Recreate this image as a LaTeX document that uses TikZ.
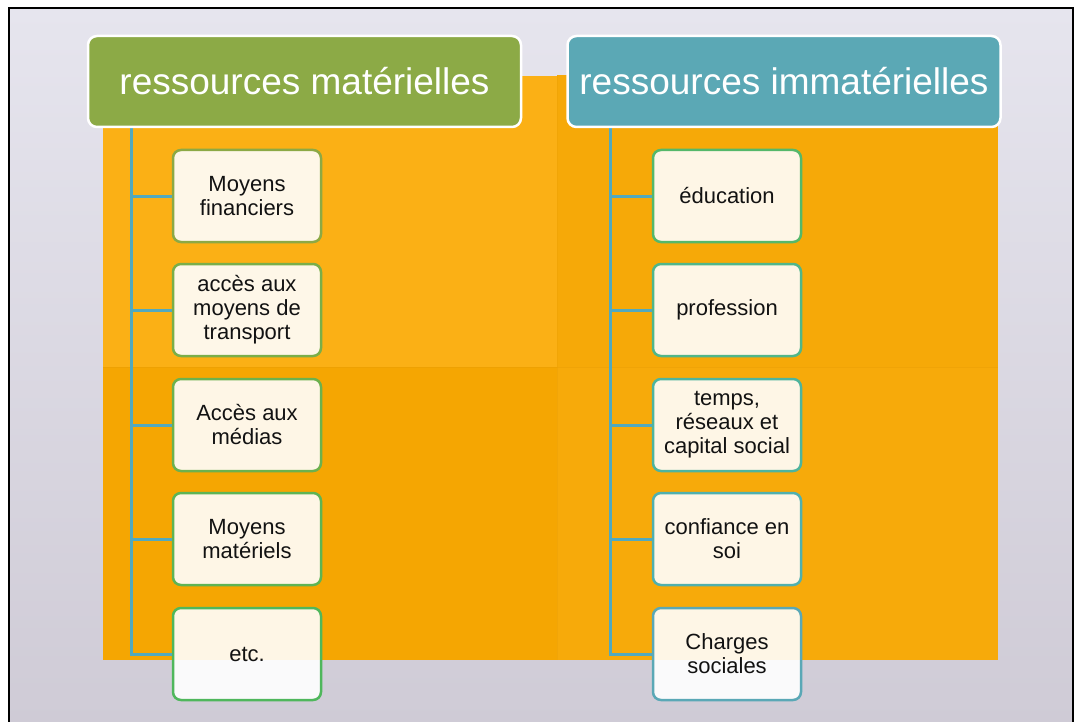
\documentclass[tikz,border=0pt]{standalone}
\usepackage{fontspec}
\setmainfont{Liberation Sans}
\definecolor{bgtop}{HTML}{E6E5EE}
\definecolor{bgbot}{HTML}{CFCBD6}
\definecolor{pUL}{HTML}{FBB015}
\definecolor{pUR}{HTML}{F6A908}
\definecolor{pLL}{HTML}{F5A602}
\definecolor{pLR}{HTML}{F7AA0A}
\definecolor{hgreen}{HTML}{8CAA46}
\definecolor{hteal}{HTML}{5BA8B5}
\definecolor{connc}{HTML}{52A9BE}
\definecolor{bL1}{HTML}{8CA945}
\definecolor{bL2}{HTML}{7AAE49}
\definecolor{bL3}{HTML}{6CB14E}
\definecolor{bL4}{HTML}{5EB454}
\definecolor{bL5}{HTML}{4FB75C}
\definecolor{bR1}{HTML}{55B86A}
\definecolor{bR2}{HTML}{50B68A}
\definecolor{bR3}{HTML}{4EB49E}
\definecolor{bR4}{HTML}{50B0AE}
\definecolor{bR5}{HTML}{5AA8B6}
\tikzset{
  header/.style={rounded corners=9pt, draw=white, line width=2.5pt, text=white,
    minimum width=433pt, minimum height=91pt, inner sep=0pt,
    font=\fontsize{37}{40}\selectfont},
  child/.style={rounded corners=8pt, draw=#1, line width=2.5pt, fill=white,
    fill opacity=0.9, text opacity=1, text=black!93, align=center,
    minimum width=148pt, minimum height=92pt, inner sep=0pt,
    font=\fontsize{22}{24}\selectfont},
  conn/.style={draw=connc, line width=3pt}
}
\begin{document}
\begin{tikzpicture}[x=1pt,y=-1pt]
\useasboundingbox (0,0) rectangle (1075,722);
\fill[white] (0,0) rectangle (1075,722);
% slide background
\shade[top color=bgtop, bottom color=bgbot] (9,8) rectangle (1073,724);
\draw[black, line width=2pt] (9,8) rectangle (1073,726);
% orange paper
\fill[pUL] (103,76) rectangle (557,367);
\fill[pUR] (557,75) rectangle (998,367);
\fill[pLL] (103,367) rectangle (557,660);
\fill[pLR] (557,367) rectangle (998,660);
\draw[pLL!90!black, opacity=0.25, line width=1pt] (103,367) -- (998,367);
\draw[pLL!90!black, opacity=0.2, line width=1pt] (557,75) -- (557,660);
% connector origins
\coordinate (lt) at (131,127);
\coordinate (rt) at (610,127);
% child boxes
\node[child=bL1] (l1) at (247,196) {Moyens\\financiers};
\node[child=bL2] (l2) at (247,310) {accès aux\\moyens de\\transport};
\node[child=bL3] (l3) at (247,425) {Accès aux\\médias};
\node[child=bL4] (l4) at (247,539) {Moyens\\matériels};
\node[child=bL5] (l5) at (247,654) {etc.};
\node[child=bR1] (r1) at (727,196) {éducation};
\node[child=bR2] (r2) at (727,310) {profession};
\node[child=bR3] (r3) at (727,425) {temps,\\réseaux et\\capital social};
\node[child=bR4] (r4) at (727,539) {confiance en\\soi};
\node[child=bR5] (r5) at (727,654) {Charges\\sociales};
% connectors
\draw[conn] (lt) |- (l5.west);
\draw[conn] (rt) |- (r5.west);
\foreach \i in {1,2,3,4}{
  \draw[conn] (l\i.west -| lt) -- (l\i.west);
  \draw[conn] (r\i.west -| rt) -- (r\i.west);
}
% headers
\node[header, fill=hgreen] (hl) at (304.5,81.5) {ressources matérielles};
\node[header, fill=hteal] (hr) at (784,81.5) {ressources immatérielles};
\end{tikzpicture}
\end{document}
